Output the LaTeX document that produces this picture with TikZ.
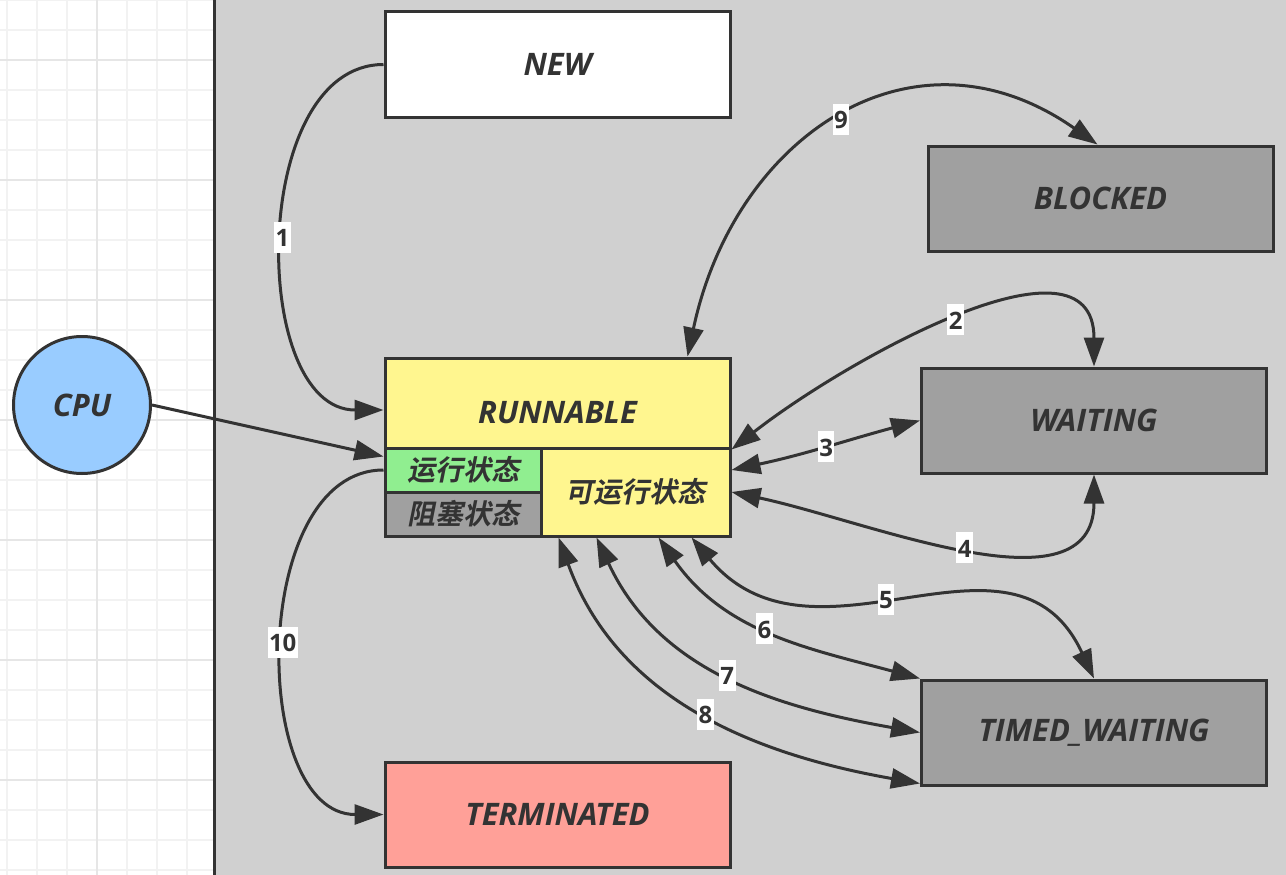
\documentclass[tikz,border=0pt]{standalone}
\usepackage{fontspec}
\setsansfont{Open Sans}
\newfontfamily\cjk[FakeSlant=0.2]{Noto Sans CJK SC Bold}
\usetikzlibrary{arrows.meta}

\definecolor{canvas}{RGB}{208,208,208}
\definecolor{ink}{RGB}{51,51,51}
\definecolor{runyellow}{RGB}{255,246,143}
\definecolor{rungreen}{RGB}{144,238,144}
\definecolor{waitgray}{RGB}{160,160,160}
\definecolor{deadred}{RGB}{255,160,152}
\definecolor{cpublue}{RGB}{153,204,255}
\definecolor{gridminor}{RGB}{242,242,242}
\definecolor{gridmajor}{RGB}{230,230,230}

\newcommand\boxw{345pt}
\newcommand\boxh{105pt}
\newcommand\cellw{156pt}
\newcommand\cellh{44pt}

\tikzset{
  state/.style={draw=ink, line width=3pt, minimum width=\boxw, minimum height=\boxh,
    inner sep=0pt, text=ink, font=\fontsize{31}{36}\selectfont\sffamily\bfseries\itshape},
  cjkstate/.style={draw=ink, line width=3pt, inner sep=0pt, text=ink,
    font=\fontsize{28}{32}\selectfont\cjk},
  flow/.style={draw=ink, line width=3pt,
    {Triangle[length=29pt,width=20pt]}-{Triangle[length=29pt,width=20pt]}},
  oneway/.style={draw=ink, line width=3pt, -{Triangle[length=29pt,width=20pt]}},
  num/.style={fill=white, inner xsep=1.5pt, inner ysep=3pt, text height=22pt, text depth=3pt,
    text=ink, font=\fontsize{24}{28}\selectfont\sffamily\bfseries}
}

\begin{document}
\begin{tikzpicture}[x=1pt,y=-1pt]
    \useasboundingbox (0,0) rectangle (1286,875);

    % paper grid on the left, grey canvas on the right
    \fill[white] (0,0) rectangle (214,875);
    \foreach \gx in {7,37,...,187} \draw[gridminor, line width=1.5pt] (\gx,0) -- (\gx,875);
    \foreach \gy in {0,30,...,870} \draw[gridminor, line width=1.5pt] (0,\gy) -- (213,\gy);
    \draw[gridmajor, line width=1.5pt] (97,0) -- (97,875);
    \foreach \gy in {60,180,...,780} \draw[gridmajor, line width=1.5pt] (0,\gy) -- (213,\gy);
    \fill[canvas] (216,0) rectangle (1286,875);
    \draw[ink, line width=3pt] (214.5,0) -- (214.5,875);

    % states
    \node[state, fill=white] (new) at (557.5,64.5) {NEW};
    \node[state, fill=waitgray] (blocked) at (1100.5,198.5) {BLOCKED};
    \node[state, fill=waitgray] (waiting) at (1094,420.5) {WAITING};
    \node[state, fill=runyellow, minimum height=90pt, text height=40pt, text depth=0pt] (runnable) at (557.5,403) {RUNNABLE};
    \node[cjkstate, fill=rungreen, minimum width=\cellw, minimum height=\cellh] (running) at (463,470) {运行状态};
    \node[cjkstate, fill=waitgray, minimum width=\cellw, minimum height=\cellh] (blocking) at (463,514) {阻塞状态};
    \node[cjkstate, fill=runyellow, minimum width=189pt, minimum height=2*\cellh] (ready) at (635.5,492) {可运行状态};
    \node[state, fill=waitgray] (timed) at (1094,732.5) {TIMED\_WAITING};
    \node[state, fill=deadred] (terminated) at (557.5,814.5) {TERMINATED};
    \node[circle, draw=ink, line width=3pt, fill=cpublue, minimum size=137pt, text=ink,
      font=\fontsize{31}{36}\selectfont\sffamily\bfseries\itshape] (cpu) at (82,405) {CPU};

    % transitions
    \draw[oneway] (new.west) to[out=180,in=180] node[num]{1} ([yshift=-7pt]runnable.west);
    \draw[oneway] (cpu.east) -- ([yshift=-7pt]runnable.south west);
    \draw[oneway] (running.west) to[out=180,in=180] node[num]{10} (terminated.west);
    \draw[flow] ([xshift=-44pt]runnable.north east) to[out=78,in=145,looseness=1.25] node[num]{9} ([xshift=-3pt]blocked.north);
    \draw[flow] (runnable.south east) to[out=38,in=90] node[num]{2} (waiting.north);
    \draw[flow] ([yshift=22pt]ready.east) to[out=12,in=195] node[num]{3} (waiting.west);
    \draw[flow] (ready.east) to[out=-12,in=-90] node[num]{4} (waiting.south);
    \draw[flow] ([xshift=152pt]ready.south west) to[out=-50,in=115,looseness=1.15] node[num, pos=0.45]{5} (timed.north);
    \draw[flow] ([xshift=119pt]ready.south west) to[out=-55,in=165] node[num, pos=0.47]{6} (timed.north west);
    \draw[flow] ([xshift=57pt]ready.south west) to[out=-65,in=170] node[num]{7} (timed.west);
    \draw[flow] ([xshift=19pt]ready.south west) to[out=-70,in=170] node[num, pos=0.52]{8} ([yshift=3pt]timed.south west);
\end{tikzpicture}
\end{document}
